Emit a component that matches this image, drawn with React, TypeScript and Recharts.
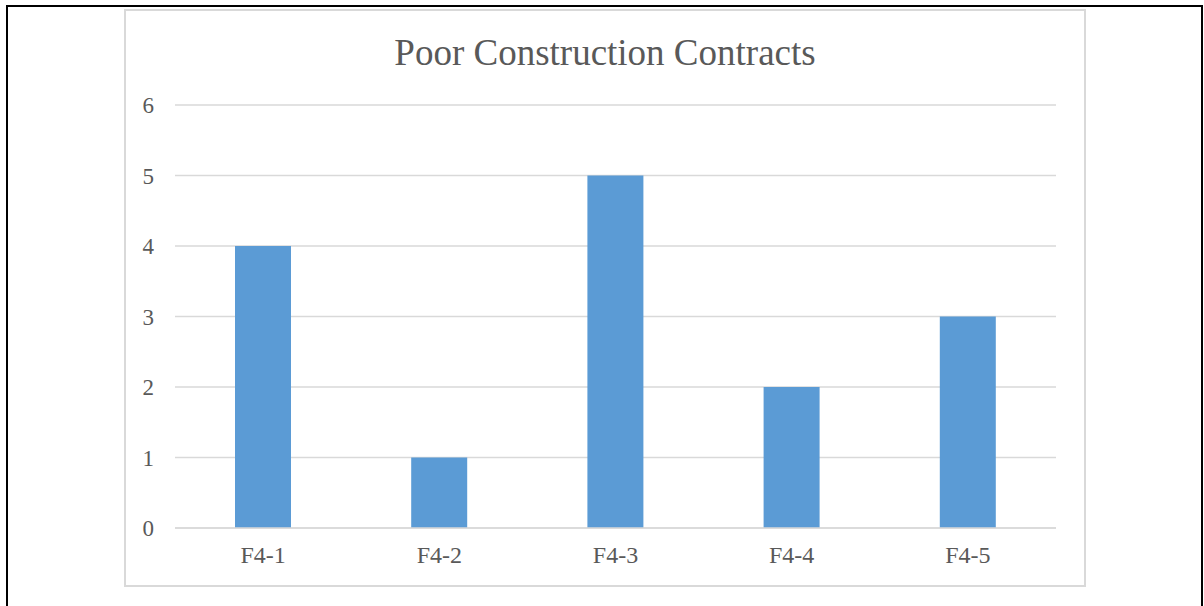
import { BarChart, Bar, XAxis, YAxis, CartesianGrid } from 'recharts';

const categories = ['F4-1', 'F4-2', 'F4-3', 'F4-4', 'F4-5'];
const counts = [4, 1, 5, 2, 3];
const yTicks = [0, 1, 2, 3, 4, 5, 6];

const data = categories.map((name, i) => ({ name, value: counts[i] }));

const FONT = '"Liberation Serif", "Times New Roman", serif';

export default function App() {
    return (
        <div style={{ position: 'absolute', left: 0, top: 0, width: 1204, height: 606, background: '#fff', overflow: 'hidden', fontFamily: FONT }}>
            {/* outer page frame, open at the bottom */}
            <div style={{ position: 'absolute', left: 6, top: 5, width: 1193, height: 620, borderLeft: '2px solid #000', borderTop: '2px solid #000', borderRight: '2px solid #000' }} />

            {/* chart area border */}
            <div style={{ position: 'absolute', left: 124, top: 9, width: 958, height: 574, border: '2px solid #d9d9d9' }} />

            <div style={{ position: 'absolute', left: 124, top: 34, width: 962, textAlign: 'center', fontSize: 37, color: '#595959', lineHeight: '37px' }}>
                Poor Construction Contracts
            </div>

            <div style={{ position: 'absolute', left: 126, top: 11 }}>
                <BarChart width={958} height={574} data={data} margin={{ top: 94, right: 28, bottom: 0, left: 0 }}>
                    <CartesianGrid vertical={false} stroke="#d9d9d9" strokeWidth={1.5} />
                    <XAxis
                        dataKey="name"
                        axisLine={{ stroke: '#d9d9d9', strokeWidth: 1.5 }}
                        tickLine={false}
                        tickSize={0}
                        tickMargin={18}
                        height={57}
                        tick={{ fill: '#595959', fontSize: 24, fontFamily: FONT }}
                    />
                    <YAxis
                        domain={[0, 6]}
                        ticks={yTicks}
                        axisLine={false}
                        tickLine={false}
                        tickSize={0}
                        tickMargin={21}
                        width={49}
                        tick={{ fill: '#595959', fontSize: 23, fontFamily: FONT }}
                    />
                    <Bar dataKey="value" fill="#5b9bd5" barSize={56} isAnimationActive={false} />
                </BarChart>
            </div>
        </div>
    );
}
